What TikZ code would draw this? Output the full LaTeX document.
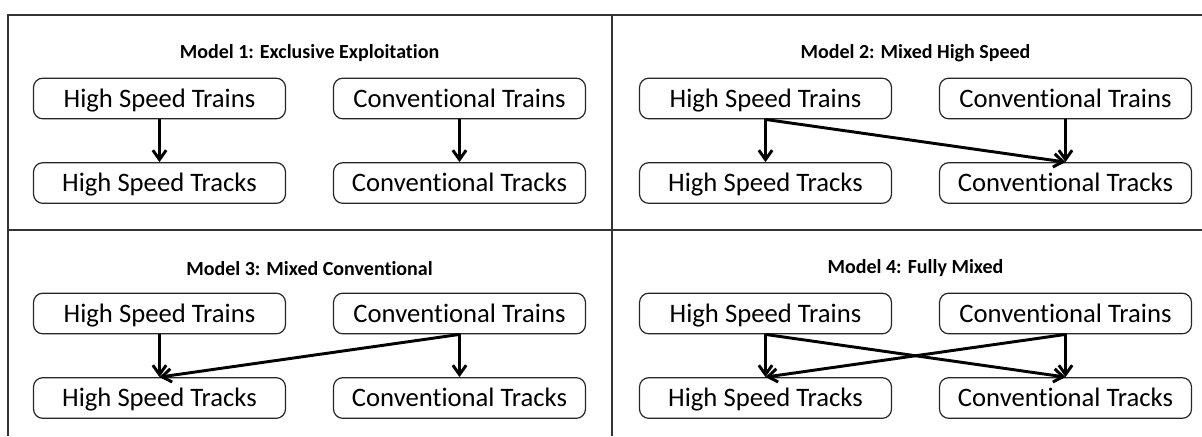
\documentclass[tikz,border=0pt]{standalone}
\usepackage{fontspec}
\setmainfont{Carlito}[RawFeature={-liga;-clig}]
\usetikzlibrary{arrows,arrows.meta,calc}

\begin{document}
\begin{tikzpicture}[x=0.75pt,y=-0.75pt,
	box/.style={draw=black!85,line width=0.9pt,rounded corners=7pt,
		minimum width=189pt,minimum height=30.5pt,inner sep=0pt,
		text height=18pt,text depth=5.2pt,
		font=\fontsize{20}{24}\selectfont},
	title/.style={font=\fontsize{15}{18}\selectfont\bfseries},
	link/.style={line width=2.2pt,-{Straight Barb[length=7pt,width=10pt]}}]

\useasboundingbox (0,0) rectangle (1202,436);

\draw[line width=1.1pt,black!80] (1202,15) -- (8,15) -- (8,436);
\draw[line width=1.1pt,black!80] (8,230) -- (1202,230);
\draw[line width=1.1pt,black!80] (612,15) -- (612,436);

\node[title] (T1) at (309.5,53.5) {Model 1: Exclusive Exploitation};
\node[box] (A1) at (159.5,98.5) {High Speed Trains};
\node[box] (B1) at (459.5,98.5) {Conventional Trains};
\node[box] (C1) at (159.5,183) {High Speed Tracks};
\node[box] (D1) at (459.5,183) {Conventional Tracks};

\node[title] (T2) at (915.5,53.5) {Model 2: Mixed High Speed};
\node[box] (A2) at (765.5,98.5) {High Speed Trains};
\node[box] (B2) at (1065.5,98.5) {Conventional Trains};
\node[box] (C2) at (765.5,183) {High Speed Tracks};
\node[box] (D2) at (1065.5,183) {Conventional Tracks};

\node[title] (T3) at (309.5,268.5) {Model 3: Mixed Conventional};
\node[box] (A3) at (159.5,313.5) {High Speed Trains};
\node[box] (B3) at (459.5,313.5) {Conventional Trains};
\node[box] (C3) at (159.5,398) {High Speed Tracks};
\node[box] (D3) at (459.5,398) {Conventional Tracks};

\node[title] (T4) at (915.5,268.5) {Model 4: Fully Mixed};
\node[box] (A4) at (765.5,313.5) {High Speed Trains};
\node[box] (B4) at (1065.5,313.5) {Conventional Trains};
\node[box] (C4) at (765.5,398) {High Speed Tracks};
\node[box] (D4) at (1065.5,398) {Conventional Tracks};

\path[link]
	(A1.south) edge (C1.north)
	(B1.south) edge (D1.north)
	(A2.south) edge (C2.north)
	(A2.south) edge (D2.north)
	(B2.south) edge (D2.north)
	(A3.south) edge (C3.north)
	(B3.south) edge (C3.north)
	(B3.south) edge (D3.north)
	(A4.south) edge (C4.north)
	(A4.south) edge (D4.north)
	(B4.south) edge (C4.north)
	(B4.south) edge (D4.north);

\end{tikzpicture}
\end{document}
